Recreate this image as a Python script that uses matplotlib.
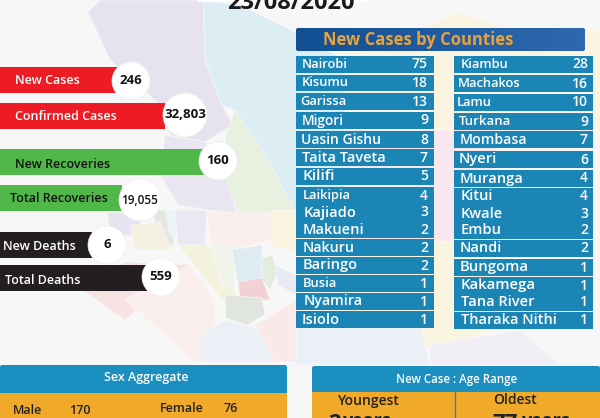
import matplotlib
matplotlib.use('Agg')
import matplotlib.pyplot as plt
import numpy as np
from matplotlib.patches import Rectangle, Circle, Polygon, FancyBboxPatch

plt.rcParams['font.family'] = ['Open Sans', 'DejaVu Sans']

# left hand summary
summary_labels = ['New Cases', 'Confirmed Cases', 'New Recoveries', 'Total Recoveries', 'New Deaths', 'Total Deaths']
summary_values = ['246', '32,803', '160', '19,055', '6', '559']

# new cases per county
left_counties = ['Nairobi', 'Kisumu', 'Garissa', 'Migori', 'Uasin Gishu', 'Taita Taveta', 'Kilifi', 'Laikipia',
                 'Kajiado', 'Makueni', 'Nakuru', 'Baringo', 'Busia', 'Nyamira', 'Isiolo']
left_cases = [75, 18, 13, 9, 8, 7, 5, 4, 3, 2, 2, 2, 1, 1, 1]
right_counties = ['Kiambu', 'Machakos', 'Lamu', 'Turkana', 'Mombasa', 'Nyeri', 'Muranga', 'Kitui',
                  'Kwale', 'Embu', 'Nandi', 'Bungoma', 'Kakamega', 'Tana River', 'Tharaka Nithi']
right_cases = [28, 16, 10, 9, 7, 6, 4, 4, 3, 2, 2, 1, 1, 1, 1]

male_cases = 170
female_cases = 76
youngest_age = 2
oldest_age = 77

# layout, in pixels of the picture
bar_ends = [118, 165, 205, 122, 92, 147]
bar_tops = [67, 103, 149, 185, 232, 265]
bar_colors = ['#ed1c24', '#ed1c24', '#50b848', '#50b848', '#231f20', '#231f20']
label_x = [15, 15, 15, 10, 3, 5]
label_y = [80.5, 117, 164, 198.5, 247, 280]
label_colors = ['white', 'white', '#111111', '#111111', 'white', 'white']
circle_x = [131, 185, 218, 140, 107, 161]
circle_y = [81, 115, 161, 200, 245, 277]
circle_r = [19, 22, 19, 21, 19, 19]
value_y = [81, 114, 160, 201, 245, 277]

left_tops = [56, 74.5, 93, 112, 131, 149, 168, 187, 204, 221, 239, 257, 275, 293, 311]
right_tops = [56, 75, 94, 113, 131, 151, 170, 188, 205, 222, 240, 259, 277, 294, 312]
left_text_x = [302, 302, 300, 302, 301, 302, 302, 303, 304, 303, 303, 303, 303, 304, 302]
right_text_x = [461, 458, 457, 459, 460, 459, 460, 461, 461, 461, 460, 460, 461, 461, 461]
# where each county name ends, the names differ in size in the reference
left_text_end = [347, 347, 343, 344, 381, 385, 334, 350, 357, 364, 355, 358, 335, 363, 340]
right_text_end = [508, 519, 491, 511, 527, 497, 524, 493, 503, 502, 502, 529, 536, 534, 556]

# faint county map behind everything
map_shapes = [
    ([(88, 12), (100, 0), (203, 0), (205, 60), (222, 105), (233, 125), (205, 142), (170, 135), (160, 105), (110, 60)], '#e6e3ef'),
    ([(203, 0), (240, 5), (295, 32), (345, 60), (345, 210), (295, 210), (235, 110), (222, 105), (205, 60)], '#dcedf4'),
    ([(235, 110), (262, 150), (295, 210), (240, 215), (222, 180), (226, 135)], '#e8f0e0'),
    ([(165, 135), (205, 142), (225, 175), (238, 215), (178, 205), (160, 175)], '#e9e6f1'),
    ([(423, 27), (458, 12), (503, 27), (600, 30), (600, 130), (345, 130), (345, 50)], '#fbf4e2'),
    ([(345, 130), (500, 130), (480, 245), (345, 245)], '#f9e7f0'),
    ([(345, 245), (480, 240), (500, 330), (420, 350), (345, 330)], '#f9f5e1'),
    ([(296, 325), (420, 325), (430, 365), (296, 365)], '#ebeff6'),
    ([(430, 345), (520, 330), (560, 365), (430, 365)], '#f1eef6'),
    ([(107, 212), (140, 212), (140, 235), (110, 235)], '#e6e4f1'),
    ([(152, 210), (172, 210), (174, 245), (160, 245)], '#e5e8e2'),
    ([(165, 210), (180, 210), (180, 235), (170, 235)], '#ebf3f7'),
    ([(175, 210), (207, 210), (205, 245), (178, 245)], '#eae8f3'),
    ([(130, 225), (160, 222), (172, 250), (135, 250)], '#f4f0df'),
    ([(207, 212), (272, 212), (272, 240), (232, 250), (210, 245)], '#fbefed'),
    ([(272, 210), (300, 210), (300, 255), (272, 245)], '#fbf4e1'),
    ([(82, 290), (125, 262), (190, 265), (150, 300), (125, 320)], '#f7e3e4'),
    ([(125, 300), (190, 265), (215, 300), (215, 362), (195, 362)], '#faefed'),
    ([(178, 245), (235, 245), (235, 305), (222, 300)], '#f3f2dd'),
    ([(210, 243), (232, 245), (235, 290), (222, 285)], '#f0f4eb'),
    ([(232, 250), (262, 245), (262, 280), (238, 285)], '#deebf3'),
    ([(262, 258), (272, 255), (278, 272), (270, 290), (262, 280)], '#e2ecdf'),
    ([(275, 265), (296, 275), (296, 295), (278, 285)], '#e9e9f4'),
    ([(238, 282), (262, 278), (270, 300), (240, 300)], '#f1d0d6'),
    ([(225, 295), (262, 298), (265, 315), (247, 325), (226, 318)], '#e0e6df'),
    ([(200, 335), (225, 320), (262, 330), (290, 362), (200, 362)], '#ebf0f7'),
    ([(255, 325), (296, 300), (296, 362), (275, 362)], '#fae9e9'),
]

fig = plt.figure(figsize=(6, 4.18), dpi=100, facecolor='#f7f7f8')
ax = fig.add_axes([0, 0, 1, 1])

for pts, col in map_shapes:
    ax.add_patch(Polygon(pts, closed=True, facecolor=col, edgecolor='#fafafa', lw=0.4, zorder=1))

# title, cut by the top edge
ax.add_patch(Rectangle((197, 0), 170, 2, facecolor='white', edgecolor='none', zorder=2))
ax.text(291, 9, '23/08/2020', fontsize=17, fontweight='bold', color='#1a1a1a', ha='center', va='baseline', zorder=3)

# summary bars
for i, lab in enumerate(summary_labels):
    ax.add_patch(Rectangle((0, bar_tops[i]), bar_ends[i], 26, facecolor=bar_colors[i], edgecolor='none', zorder=3))
    ax.text(label_x[i], label_y[i], lab, fontsize=9, fontweight='semibold', color=label_colors[i],
            ha='left', va='center', zorder=4)
    ax.add_patch(Circle((circle_x[i], circle_y[i]), circle_r[i], facecolor='white', edgecolor='#eeeeee', lw=0.5, zorder=5))
    ax.text(circle_x[i], value_y[i], summary_values[i], fontsize=9.5 if i != 3 else 8.5,
            fontweight='bold' if i != 3 else 'semibold', color='#111111', ha='center', va='center', zorder=6)

# county table
header = FancyBboxPatch((296, 28), 289, 23, boxstyle='round,pad=0,rounding_size=2', facecolor='none', edgecolor='none', zorder=3)
ax.add_patch(header)
im = ax.imshow(np.linspace(0, 1, 256).reshape(1, -1), extent=(296, 585, 52, 27), aspect='auto',
               cmap=matplotlib.colors.LinearSegmentedColormap.from_list('hdr', ['#124f92', '#2f68ae']), zorder=3)
im.set_clip_path(header)
ax.text(418, 40, 'New Cases by Counties', fontsize=12, fontweight='bold', color='#e8a33d', ha='center', va='center', zorder=4)

ax.set_xlim(0, 600)
ax.set_ylim(418, 0)
ax.axis('off')
renderer = fig.canvas.get_renderer()


def county_row(x0, width, top, name, cases, text_x, text_end, num_x):
    ax.add_patch(Rectangle((x0, top), width, 16.5, facecolor='#1b85b5', edgecolor='none', zorder=3))
    t = ax.text(text_x, top + 8.5, name, fontsize=10, fontweight='semibold', color='white', va='center', zorder=4)
    # fit the name to the width it has in the reference, not too small
    w = t.get_window_extent(renderer).width
    t.set_fontsize(max(9.3, 10 * (text_end - text_x) / w))
    ax.text(num_x, top + 8.5, str(cases), fontsize=10, fontweight='semibold', color='white', ha='right', va='center', zorder=4)


for i in range(15):
    county_row(296, 138, left_tops[i], left_counties[i], left_cases[i], left_text_x[i], left_text_end[i], 428)
    county_row(454, 139, right_tops[i], right_counties[i], right_cases[i], right_text_x[i], right_text_end[i], 588)

# sex aggregate
ax.add_patch(FancyBboxPatch((0, 365), 287, 30, boxstyle='round,pad=0,rounding_size=2', facecolor='#1b8fc0', edgecolor='none', zorder=3))
ax.add_patch(Rectangle((0, 393), 287, 25, facecolor='#f0a929', edgecolor='none', zorder=3))
ax.text(146, 378, 'Sex Aggregate', fontsize=9, fontweight='semibold', color='white', ha='center', va='center', zorder=4)
ax.text(13, 410, 'Male', fontsize=9, fontweight='semibold', color='#222222', va='center', zorder=4)
ax.text(69, 410, str(male_cases), fontsize=9, fontweight='semibold', color='#222222', va='center', zorder=4)
ax.text(160, 408, 'Female', fontsize=9, fontweight='semibold', color='#222222', va='center', zorder=4)
ax.text(223, 409, str(female_cases), fontsize=9, fontweight='semibold', color='#222222', va='center', zorder=4)

# age range
ax.add_patch(FancyBboxPatch((312, 366), 288, 28, boxstyle='round,pad=0,rounding_size=2', facecolor='#1b8fc0', edgecolor='none', zorder=3))
ax.add_patch(Rectangle((312, 392), 288, 26, facecolor='#f0a929', edgecolor='none', zorder=3))
ax.plot([455, 455], [392, 418], color='#3b8a8c', lw=1, zorder=4)
ax.text(457, 380, 'New Case : Age Range', fontsize=8.3, fontweight='semibold', color='white', ha='center', va='center', zorder=4)
ax.text(368, 401, 'Youngest', fontsize=10, fontweight='semibold', color='#222222', ha='center', va='center', zorder=4)
ax.text(515, 400, 'Oldest', fontsize=10, fontweight='semibold', color='#222222', ha='center', va='center', zorder=4)
# ages run off the bottom of the picture in the reference too
ax.text(328, 429, str(youngest_age), fontsize=16, fontweight='bold', color='#222222', va='baseline', zorder=4)
ax.text(343, 426, 'years', fontsize=13, fontweight='bold', color='#222222', va='baseline', zorder=4)
ax.text(492, 429, str(oldest_age), fontsize=16, fontweight='bold', color='#222222', va='baseline', zorder=4)
ax.text(522, 426, 'years', fontsize=13, fontweight='bold', color='#222222', va='baseline', zorder=4)

fig.savefig('out.png', dpi=100)
